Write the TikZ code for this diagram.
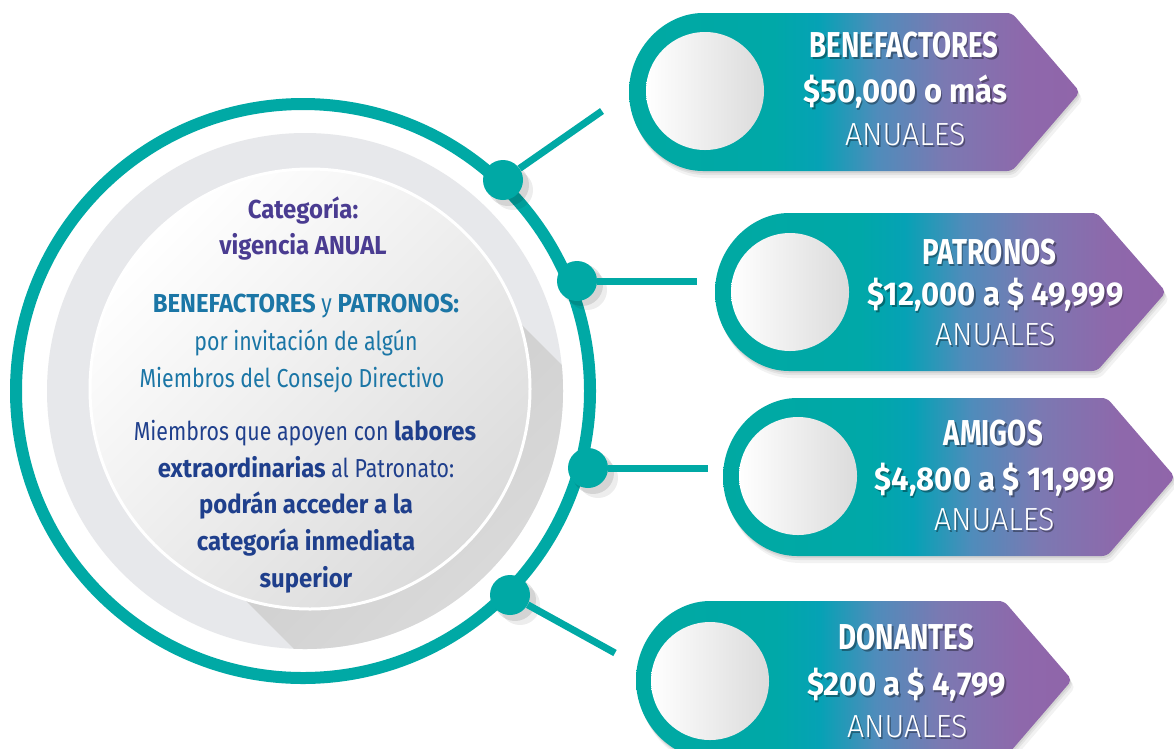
\documentclass[tikz,border=0pt]{standalone}
\usepackage{fontspec}
\setmainfont{Fira Sans}
\newfontfamily\cfr{Fira Sans}[FakeStretch=0.82]
\newfontfamily\cfb{Fira Sans}[FakeStretch=0.92]
\newfontfamily\bhf{Fira Sans}[FakeStretch=0.77]
\newfontfamily\bnf{Fira Sans}[FakeStretch=0.94]
\newfontfamily\blf{Fira Sans Light}[FakeStretch=0.95]
\usetikzlibrary{calc}
\definecolor{teal1}{HTML}{00A9A5}
\definecolor{purp}{HTML}{4A3C91}
\definecolor{bluet}{HTML}{1B76A6}
\definecolor{dblue}{HTML}{1F3F8C}
\definecolor{greyd}{HTML}{E7E8EB}
\definecolor{g0}{HTML}{00A9A2}
\definecolor{g1}{HTML}{00A8A8}
\definecolor{g2}{HTML}{05A2B5}
\definecolor{g3}{HTML}{4F8CBB}
\definecolor{g4}{HTML}{7B79B2}
\definecolor{g5}{HTML}{8E68AB}
\definecolor{g6}{HTML}{9065AA}
\pgfdeclarehorizontalshading{bannershade}{100bp}{color(0bp)=(g0); color(25bp)=(g0); color(41bp)=(g1); color(46bp)=(g2); color(52.5bp)=(g3); color(60bp)=(g4); color(69bp)=(g5); color(75bp)=(g6); color(100bp)=(g6)}
\newcommand\ctr{\cfr\mdseries\fontsize{26}{30}\selectfont}
\newcommand\ctb{\cfb\bfseries\fontsize{26}{30}\selectfont}
\newcommand\bhead{\bhf\bfseries\fontsize{36}{40}\selectfont}
\newcommand\bnum{\bnf\bfseries\fontsize{33}{38}\selectfont}
\newcommand\blight{\blf\fontsize{32}{36}\selectfont}
\newcommand\drawbanner[4]{%
  \foreach \s/\o in {2/0.07,4/0.06,7/0.05}{%
    \fill[black,opacity=\o,rounded corners=5pt,shift={(\s*0.5,\s)}] (#1,#2+79) arc[start angle=270,end angle=90,radius=79pt] -- (#3,#2-79) -- (#4,#2) -- (#3,#2+79) -- cycle;}
  \shade[shading=bannershade,rounded corners=5pt] (#1,#2+79) arc[start angle=270,end angle=90,radius=79pt] -- (#3,#2-79) -- (#4,#2) -- (#3,#2+79) -- cycle;
}
\newcommand\btext[4]{%
  \node[anchor=base,inner sep=0pt,text=black,opacity=0.35] (#1s) at ($#2+(1.5,2)$) {#3 #4};
  \node[anchor=base,inner sep=0pt,text=white] (#1) at #2 {#3 #4};
}
\begin{document}
\begin{tikzpicture}[x=1pt,y=-1pt,
  dot/.style={circle,fill=teal1,minimum size=40pt,inner sep=0pt},
  conn/.style={draw=teal1,line width=7pt},
  bcirc/.style={circle,minimum size=118pt,inner sep=0pt,left color=white,right color=black!14},
  ctext/.style={anchor=base,inner sep=0pt}]
\useasboundingbox (0,0) rectangle (1174,748);
\fill[white] (0,0) rectangle (1174,748);
% grey disk and long shadow
\node[circle,fill=greyd,minimum size=516pt,inner sep=0pt] (disk) at (305,391) {};
\begin{scope}
  \clip (305,391) circle[radius=258pt];
  \shade[top color=black!22,bottom color=black!9,shading angle=45] (447.9,251.1) -- (766,569) -- (490,845) -- (172.1,526.9) -- cycle;
\end{scope}
\node[circle,minimum size=440pt,inner sep=0pt,draw=white,line width=3pt,top color=white,bottom color=black!14,shading angle=45] (inner) at (310,389) {};
% outer ring
\node[circle,draw=teal1,line width=12pt,minimum size=574pt,inner sep=0pt] (ring) at (303,391) {};
% dot shadows
\foreach \x/\y in {503/180,577/280,588/468,510/595}{
  \fill[black,opacity=0.10] (\x+5,\y+5) circle[radius=21pt];
  \fill[black,opacity=0.07] (\x+10,\y+10) circle[radius=20pt];
}
% dots and connectors
\node[dot] (d1) at (503,180) {};
\node[dot] (d2) at (577,281) {};
\node[dot] (d3) at (588,468) {};
\node[dot] (d4) at (510,595) {};
\coordinate (e1) at (602,111);
\coordinate (e2) at (697,281);
\coordinate (e3) at (708,468);
\coordinate (e4) at (615,653);
\draw[conn] (d1) -- (e1);
\draw[conn] (d2) -- (e2);
\draw[conn] (d3) -- (e3);
\draw[conn] (d4) -- (e4);
% banners
\drawbanner{708}{92}{1012}{1080}
\drawbanner{794}{292}{1097}{1166}
\drawbanner{802}{477}{1107}{1175}
\drawbanner{715}{680}{1004}{1072}
\node[bcirc] (w1) at (705,91) {};
\node[bcirc] (w2) at (790,292) {};
\node[bcirc] (w3) at (798,476) {};
\node[bcirc] (w4) at (710,681) {};
% banner texts
\btext{t1h}{(901,57)}{\bhead}{BENEFACTORES}
\btext{t1n}{(902,102)}{\bnum}{\$50,000 o más}
\btext{t1a}{(901,145)}{\blight}{ANUALES}
\btext{t2h}{(986,264)}{\bhead}{PATRONOS}
\btext{t2n}{(992,305)}{\bnum}{\$12,000 a \$ 49,999}
\btext{t2a}{(991,345)}{\blight}{ANUALES}
\btext{t3h}{(990,445)}{\bhead}{AMIGOS}
\btext{t3n}{(991,490)}{\bnum}{\$4,800 a \$ 11,999}
\btext{t3a}{(990,530)}{\blight}{ANUALES}
\btext{t4h}{(903,649)}{\bhead}{DONANTES}
\btext{t4n}{(903,695)}{\bnum}{\$200 a \$ 4,799}
\btext{t4a}{(903,737)}{\blight}{ANUALES}
% centre texts
\node[ctext,text=purp] (c1) at (303,218) {\ctb Categoría:};
\node[ctext,text=purp] (c2) at (303,254) {\ctb vigencia ANUAL};
\node[ctext,text=bluet] (c3) at (306,312) {\ctb BENEFACTORES {\ctr y} PATRONOS:};
\node[ctext,text=bluet] (c4) at (306,350) {\ctr por invitación de algún};
\node[ctext,text=bluet] (c5) at (292,387) {\ctr Miembros del Consejo Directivo};
\node[ctext,text=dblue] (c6) at (305,440) {\ctr Miembros que apoyen con {\ctb labores}};
\node[ctext,text=dblue] (c7) at (306,477) {\ctb extraordinarias {\ctr al Patronato:}};
\node[ctext,text=dblue] (c8) at (306,513) {\ctb podrán acceder a la};
\node[ctext,text=dblue] (c9) at (306,550) {\ctb categoría inmediata};
\node[ctext,text=dblue] (c10) at (306,587) {\ctb superior};
\end{tikzpicture}
\end{document}
